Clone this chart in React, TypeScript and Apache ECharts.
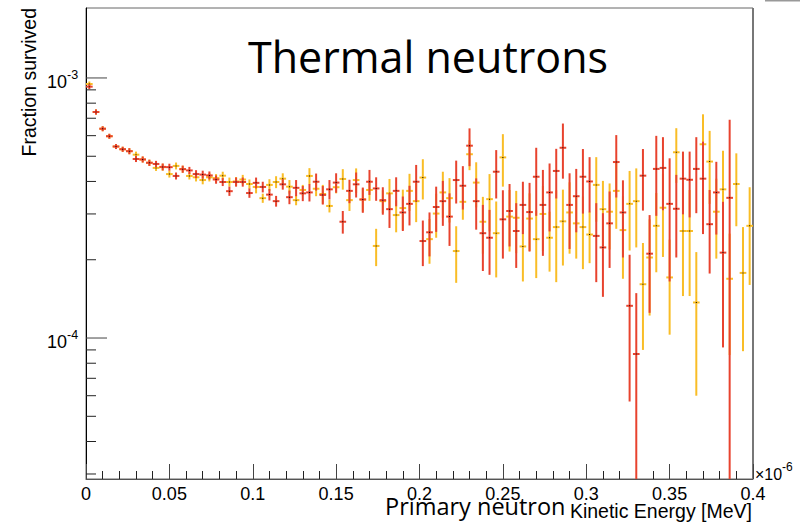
import React, { useEffect, useRef } from "react";
import * as echarts from "echarts";

// Histogram binning (x in units of 1e-6 MeV)
const BIN_WIDTH = 0.004;
const N_BINS = 100;
const X_MIN = 0;
const X_MAX = 0.4;
const Y_MIN = 2.87e-5;
const Y_MAX = 1.858e-3;
const UNIT = 1e-4; // values below are in units of 1e-4

const redValues = [
  9.26, 7.40, 6.38, 5.97, 5.45, 5.32, 5.23, 4.88, 4.86, 4.72,
  4.67, 4.55, 4.54, 4.20, 4.46, 4.41, 4.27, 4.25, 4.22, 4.07,
  3.98, 3.67, 3.98, 3.98, 3.61, 3.95, 3.81, 3.56, 3.36, 3.90,
  3.48, 3.78, 3.60, 3.63, 3.99, 3.55, 3.73, 3.96, 2.80, 3.68,
  3.90, 3.41, 3.99, 3.76, 3.39, 3.13, 3.68, 3.04, 3.28, 3.99,
  2.36, 2.55, 3.19, 3.36, 2.93, 4.05, 3.85, 5.49, 3.36, 2.53,
  2.43, 4.36, 2.86, 3.08, 2.58, 3.25, 3.05, 4.17, 3.25, 3.63,
  4.39, 5.39, 3.25, 3.51, 4.17, 4.00, 2.47, 2.23, 2.76, 4.75,
  3.04, 1.33, 0.868, 4.21, 2.11, 4.47, 4.51, 3.28, 3.14, 4.10,
  4.06, 4.47, 4.10, 2.74, 3.63, 2.13, 3.46, null, null, null,
];
const redErrors = [
  0.21, 0.17, 0.14, 0.13, 0.12, 0.12, 0.14, 0.13, 0.13, 0.13,
  0.13, 0.14, 0.14, 0.13, 0.14, 0.14, 0.15, 0.15, 0.15, 0.15,
  0.14, 0.15, 0.16, 0.16, 0.15, 0.19, 0.18, 0.18, 0.16, 0.18,
  0.21, 0.27, 0.24, 0.28, 0.30, 0.29, 0.32, 0.34, 0.28, 0.38,
  0.43, 0.38, 0.44, 0.39, 0.41, 0.48, 0.47, 0.46, 0.57, 0.64,
  0.47, 0.49, 0.63, 0.66, 0.67, 0.76, 0.73, 0.91, 0.75, 0.72,
  0.68, 0.92, 0.84, 0.83, 0.72, 0.74, 0.90, 1.22, 1.18, 1.06,
  0.95, 1.29, 1.05, 0.96, 1.16, 0.96, 0.83, 0.79, 0.90, 1.28,
  1.00, 0.76, 0.62, 1.12, 0.86, 1.52, 1.41, 1.63, 1.10, 1.11,
  1.15, 1.45, 1.59, 0.97, 1.13, 1.21, 3.44, null, null, null,
];
const yellowValues = [
  9.48, 7.40, 6.38, 5.97, 5.45, 5.32, 5.23, 5.07, 4.86, 4.72,
  4.51, 4.54, 4.27, 4.59, 4.46, 4.20, 4.15, 4.05, 4.15, 4.12,
  4.21, 3.98, 4.00, 4.07, 3.91, 3.81, 3.45, 3.88, 3.98, 4.10,
  3.82, 3.39, 3.71, 4.20, 3.75, 3.58, 3.22, 3.80, 4.09, 3.39,
  4.05, 3.41, 3.71, 2.26, 3.36, 3.60, 2.97, 3.16, 3.68, 3.36,
  4.14, 2.40, 3.01, 3.63, 3.45, 2.16, 3.34, 5.09, 3.96, 2.80,
  3.42, 2.53, 4.95, 2.93, 2.90, 2.25, 2.88, 2.40, 3.00, 2.43,
  2.67, 2.81, 3.04, 2.76, 2.67, 2.50, 3.88, 3.13, 3.06, 3.68,
  2.60, 3.28, 3.36, 1.61, 2.04, 2.70, 3.17, 1.71, 5.18, 2.58,
  2.58, 1.37, 5.56, 4.77, 3.06, 3.73, 1.69, 3.91, 1.78, 2.70,
];
const yellowErrors = [
  0.21, 0.17, 0.14, 0.13, 0.12, 0.12, 0.14, 0.14, 0.13, 0.13,
  0.12, 0.14, 0.13, 0.14, 0.14, 0.13, 0.15, 0.15, 0.15, 0.15,
  0.15, 0.16, 0.16, 0.17, 0.16, 0.21, 0.14, 0.20, 0.21, 0.20,
  0.23, 0.15, 0.17, 0.30, 0.24, 0.30, 0.18, 0.20, 0.37, 0.31,
  0.44, 0.35, 0.34, 0.37, 0.34, 0.49, 0.42, 0.56, 0.60, 0.57,
  0.73, 0.47, 0.58, 0.73, 0.67, 0.53, 0.49, 0.67, 0.78, 0.69,
  0.85, 0.82, 1.13, 0.78, 0.78, 0.60, 0.72, 0.70, 0.84, 0.63,
  1.03, 0.91, 0.93, 0.74, 0.83, 0.56, 1.08, 0.89, 0.87, 1.05,
  0.91, 1.11, 1.13, 0.71, 0.82, 0.91, 1.12, 0.68, 1.23, 1.13,
  1.13, 0.77, 1.69, 1.49, 1.04, 1.52, 0.83, 1.22, 0.89, 1.10,
];

const yDecades = [1e-4, 1e-3];
const yDecadeExponents = ["-4", "-3"];
const yMinorTicks = [
  3e-5, 4e-5, 5e-5, 6e-5, 7e-5, 8e-5, 9e-5,
  2e-4, 3e-4, 4e-4, 5e-4, 6e-4, 7e-4, 8e-4, 9e-4,
];

const RED = "#e8432e";
const YELLOW = "#f9bd26";
const AXIS_FONT = "'Liberation Sans', Arial, Helvetica, sans-serif";
const TITLE_FONT = "'Open Sans', 'Noto Sans', sans-serif";

function buildData(values: (number | null)[], errors: (number | null)[]) {
  const out: number[][] = [];
  for (let i = 0; i < N_BINS; i++) {
    const v = values[i];
    const e = errors[i];
    if (v == null || e == null) continue;
    out.push([X_MIN + BIN_WIDTH * (i + 0.5), v * UNIT, e * UNIT]);
  }
  return out;
}

function makeErrorRender(color: string) {
  return (params: any, api: any) => {
    const x = api.value(0);
    const v = api.value(1);
    const e = api.value(2);
    const lo = Math.max(v - e, Y_MIN * 0.1);
    const hi = v + e;
    const pLo = api.coord([x, lo]);
    const pHi = api.coord([x, hi]);
    const pL = api.coord([x - BIN_WIDTH / 2, v]);
    const pR = api.coord([x + BIN_WIDTH / 2, v]);
    const c = api.coord([x, v]);
    return {
      type: "group",
      children: [
        {
          type: "line",
          shape: { x1: pLo[0], y1: pLo[1], x2: pHi[0], y2: pHi[1] },
          style: { stroke: color, lineWidth: 2 },
        },
        {
          type: "line",
          shape: { x1: pL[0], y1: pL[1], x2: pR[0], y2: pR[1] },
          style: { stroke: color, lineWidth: 2 },
        },
        {
          type: "rect",
          shape: { x: c[0] - 0.5, y: c[1] - 0.5, width: 1, height: 1 },
          style: { fill: "#000" },
        },
      ],
    };
  };
}

function renderYAxisDecor(params: any, api: any) {
  const children: any[] = [];
  for (const v of yMinorTicks) {
    const p = api.coord([X_MIN, v]);
    children.push({
      type: "line",
      shape: { x1: p[0], y1: p[1], x2: p[0] + 10, y2: p[1] },
      style: { stroke: "#222", lineWidth: 1 },
    });
  }
  yDecades.forEach((v, i) => {
    const p = api.coord([X_MIN, v]);
    children.push({
      type: "line",
      shape: { x1: p[0], y1: p[1], x2: p[0] + 21, y2: p[1] },
      style: { stroke: "#444", lineWidth: 1 },
    });
    children.push({
      type: "text",
      style: {
        text: "10",
        x: p[0] - 19,
        y: p[1] + 4,
        align: "right",
        verticalAlign: "middle",
        fontSize: 18,
        fontFamily: AXIS_FONT,
        fill: "#000",
      },
    });
    children.push({
      type: "text",
      style: {
        text: yDecadeExponents[i],
        x: p[0] - 19,
        y: p[1] - 3,
        align: "left",
        verticalAlign: "middle",
        fontSize: 12.5,
        fontFamily: AXIS_FONT,
        fill: "#000",
      },
    });
  });
  return { type: "group", children };
}

export default function App() {
  const ref = useRef<HTMLDivElement>(null);

  useEffect(() => {
    if (!ref.current) return;
    const chart = echarts.init(ref.current, null, { renderer: "svg" });
    const option: any = {
      animation: false,
      backgroundColor: "#fff",
      grid: {
        left: 86,
        right: 47,
        top: 8,
        bottom: 45,
        show: true,
        borderColor: "#666",
        borderWidth: 1,
        backgroundColor: "transparent",
      },
      xAxis: {
        type: "value",
        min: X_MIN,
        max: X_MAX,
        interval: 0.05,
        axisLine: { show: true, lineStyle: { color: "#555", width: 1 } },
        axisTick: { show: true, inside: true, length: 15, lineStyle: { color: "#444" } },
        minorTick: { show: true, splitNumber: 5, length: 8, lineStyle: { color: "#222" } },
        splitLine: { show: false },
        minorSplitLine: { show: false },
        axisLabel: {
          show: true,
          margin: 6,
          fontSize: 18,
          fontFamily: AXIS_FONT,
          color: "#000",
          formatter: (v: number) => String(Number(v.toFixed(2))),
        },
      },
      yAxis: {
        type: "log",
        logBase: 10,
        min: Y_MIN,
        max: Y_MAX,
        axisLine: { show: true, lineStyle: { color: "#000", width: 1 } },
        axisTick: { show: false },
        axisLabel: { show: false },
        splitLine: { show: false },
      },
      graphic: [
        {
          type: "text",
          x: 248,
          y: 56,
          style: {
            text: "Thermal neutrons",
            fontSize: 43,
            fontFamily: TITLE_FONT,
            fill: "#000",
            align: "left",
            verticalAlign: "middle",
          },
        },
        {
          type: "text",
          x: 28.5,
          y: 8,
          rotation: Math.PI / 2,
          style: {
            text: "Fraction survived",
            fontSize: 19.5,
            fontFamily: AXIS_FONT,
            fill: "#000",
            align: "right",
            verticalAlign: "middle",
          },
        },
        {
          type: "text",
          x: 385,
          y: 506,
          style: {
            text: "Primary neutron",
            fontSize: 23.5,
            fontFamily: TITLE_FONT,
            fill: "#000",
            align: "left",
            verticalAlign: "middle",
          },
        },
        {
          type: "text",
          x: 752,
          y: 511,
          style: {
            text: "Kinetic Energy [MeV]",
            fontSize: 19.5,
            fontFamily: AXIS_FONT,
            fill: "#000",
            align: "right",
            verticalAlign: "middle",
          },
        },
        {
          type: "text",
          x: 755,
          y: 474,
          style: {
            text: "×10",
            fontSize: 16,
            fontFamily: AXIS_FONT,
            fill: "#000",
            align: "left",
            verticalAlign: "middle",
          },
        },
        {
          type: "text",
          x: 782,
          y: 467,
          style: {
            text: "-6",
            fontSize: 12,
            fontFamily: AXIS_FONT,
            fill: "#000",
            align: "left",
            verticalAlign: "middle",
          },
        },
        {
          type: "rect",
          shape: { x: 752, y: 8, width: 2, height: 471 },
          style: { fill: "#777" },
        },
        {
          type: "rect",
          shape: { x: 765, y: 0, width: 35, height: 1.5 },
          style: { fill: "#999" },
        },
      ],
      series: [
        {
          type: "custom",
          name: "axisDecor",
          data: [[X_MIN, Y_MIN]],
          clip: false,
          silent: true,
          renderItem: renderYAxisDecor,
          z: 5,
        },
        {
          type: "custom",
          name: "yellow",
          data: buildData(yellowValues, yellowErrors),
          clip: true,
          renderItem: makeErrorRender(YELLOW),
          z: 2,
        },
        {
          type: "custom",
          name: "red",
          data: buildData(redValues, redErrors),
          clip: true,
          renderItem: makeErrorRender(RED),
          z: 3,
        },
      ],
    };
    chart.setOption(option);
    return () => chart.dispose();
  }, []);

  return (
    <div
      ref={ref}
      style={{ position: "fixed", left: 0, top: 0, width: 800, height: 524, background: "#fff" }}
    />
  );
}
